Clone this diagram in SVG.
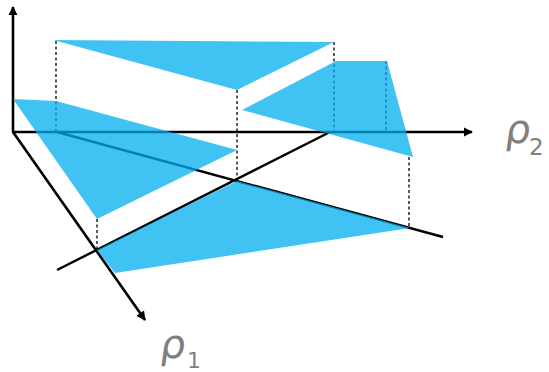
<svg xmlns="http://www.w3.org/2000/svg" width="549" height="372" viewBox="0 0 549 372">
<defs>
<style>
.ax{stroke:#000;stroke-width:2.6;fill:none}
.ln{stroke:#000;stroke-width:2.4;fill:none}
.dash{stroke:#000;stroke-width:1.3;stroke-dasharray:3 2.5;fill:none}
.pl{fill:#00AEEF;fill-opacity:0.75;stroke:none}
.lbl{font-family:"DejaVu Sans",sans-serif;fill:#7F7F7F}
</style>
<marker id="ah" viewBox="0 0 10 10" refX="9" refY="5" markerWidth="3.6" markerHeight="3.6" orient="auto" markerUnits="strokeWidth">
<path d="M0,0 L10,5 L0,10 z" fill="#000"/>
</marker>
</defs>
<g id="connectors">
<line class="ax" x1="13" y1="132" x2="13" y2="7" marker-end="url(#ah)"/>
<line class="ax" x1="12" y1="132" x2="472" y2="132" marker-end="url(#ah)"/>
<line class="ax" x1="13" y1="132" x2="145" y2="320" marker-end="url(#ah)"/>
<line class="ln" x1="57" y1="132" x2="443" y2="237"/>
<line class="ln" x1="57" y1="270" x2="330" y2="132"/>
<line class="dash" x1="56" y1="41" x2="56" y2="132"/>
<line class="dash" x1="237" y1="90" x2="237" y2="181"/>
<line class="dash" x1="97" y1="219" x2="97" y2="250"/>
<line class="dash" x1="334" y1="42" x2="334" y2="132"/>
<line class="dash" x1="386" y1="61" x2="386" y2="132"/>
<line class="dash" x1="409" y1="157" x2="409" y2="228"/>
</g>
<g id="plane-top"><polygon class="pl" points="53,40 334,42 237,90"/></g>
<g id="plane-left"><polygon class="pl" points="13,99 56,101 237,150 97,219"/></g>
<g id="plane-right"><polygon class="pl" points="242,110 336,61 387,61 413,157"/></g>
<g id="plane-bottom"><polygon class="pl" points="97,250 237,181 410,228 115,273"/></g>
<g id="label-rho2"><text class="lbl" transform="translate(504,143) skewX(-8)" font-size="40">ρ</text><text class="lbl" x="529" y="155" font-size="23">2</text></g>
<g id="label-rho1"><text class="lbl" transform="translate(159,358) skewX(-8)" font-size="40">ρ</text><text class="lbl" x="187" y="368" font-size="22">1</text></g>
</svg>
